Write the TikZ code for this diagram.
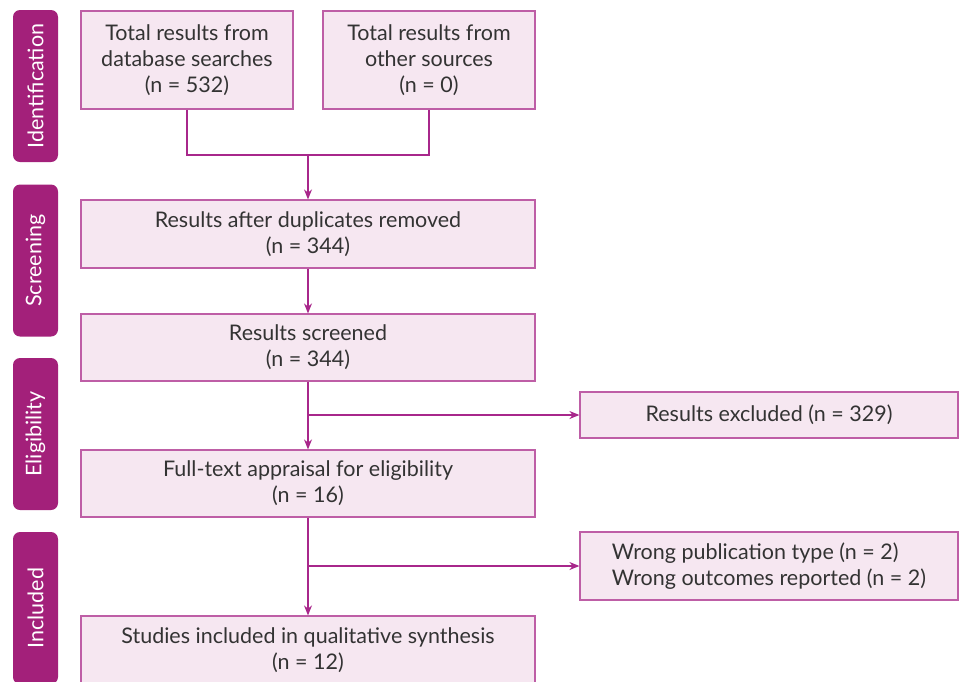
\documentclass[tikz,border=0pt]{standalone}
\usepackage{fontspec}
\setmainfont{Lato}
\usepackage{tikz}
\usetikzlibrary{arrows.meta, positioning}

\definecolor{phase}{HTML}{A3207A}
\definecolor{boxline}{HTML}{BE5EA6}
\definecolor{boxfill}{HTML}{F6E7F1}
\definecolor{flow}{HTML}{A8278B}
\definecolor{ink}{HTML}{333333}

\tikzset{
  phaselabel/.style={fill=phase, rounded corners=7pt, text=white, rotate=90,
    minimum width=152pt, minimum height=45pt, inner sep=0pt,
    font=\fontsize{21.5}{26}\selectfont},
  stagebox/.style={draw=boxline, fill=boxfill, line width=1.2pt, text=ink,
    align=center, inner sep=2pt, font=\fontsize{21.5}{26}\selectfont},
  flowline/.style={draw=flow, line width=1.4pt},
  flowarrow/.style={flowline, -{Stealth[length=10pt, width=8pt]}}
}

\begin{document}
\begin{tikzpicture}[x=1pt, y=-1pt]
  \useasboundingbox (0,0) rectangle (960,681);
  \clip (0,0) rectangle (960,681);

  % Phases
  \node[phaselabel] (ident) at (35.5,86) {Identification};
  \node[phaselabel] (screen) at (35.5,260.5) {Screening};
  \node[phaselabel] (elig) at (35.5,434) {Eligibility};
  \node[phaselabel] (incl) at (35.5,608) {Included};

  % Boxes
  \node[stagebox, minimum width=212pt, minimum height=98pt] (db) at (187,60)
    {Total results from\\database searches\\(n = 532)};
  \node[stagebox, minimum width=212pt, minimum height=98pt] (other) at (429,60)
    {Total results from\\other sources\\(n = 0)};
  \node[stagebox, minimum width=454pt, minimum height=68pt] (dup) at (308,234)
    {Results after duplicates removed\\(n = 344)};
  \node[stagebox, minimum width=454pt, minimum height=67pt] (screened) at (308,347.5)
    {Results screened\\(n = 344)};
  \node[stagebox, minimum width=378pt, minimum height=46pt] (excluded) at (769,415)
    {Results excluded (n = 329)};
  \node[stagebox, minimum width=454pt, minimum height=67pt] (fulltext) at (308,483.5)
    {Full-text appraisal for eligibility\\(n = 16)};
  \node[stagebox, minimum width=378pt, minimum height=68pt, align=left] (wrong) at (769,566)
    {Wrong publication type (n = 2)\\Wrong outcomes reported (n = 2)};
  \node[stagebox, minimum width=454pt, minimum height=68pt] (included) at (308,650)
    {Studies included in qualitative synthesis\\(n = 12)};

  % Connectors
  \coordinate (join) at (308,155);
  \coordinate (split1) at (308,415);
  \coordinate (split2) at (308,566);
  \draw[flowline] (db.south) |- (join) -| (other.south);
  \draw[flowarrow] (join) -- (dup.north);
  \draw[flowarrow] (dup.south) -- (screened.north);
  \draw[flowarrow] (screened.south) -- (fulltext.north);
  \draw[flowarrow] (split1) -- (excluded.west);
  \draw[flowarrow] (fulltext.south) -- (included.north);
  \draw[flowarrow] (split2) -- (wrong.west);
\end{tikzpicture}
\end{document}
